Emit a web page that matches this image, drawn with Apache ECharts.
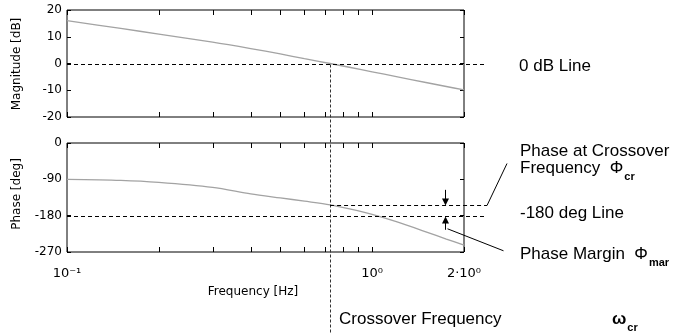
<!DOCTYPE html>
<html>
<head>
<meta charset="utf-8">
<script src="https://cdn.jsdelivr.net/npm/echarts@6/dist/echarts.min.js"></script>
<style>
  html, body { margin: 0; padding: 0; background: #fff; }
  #chart { width: 675px; height: 335px; }
</style>
</head>
<body>
<div id="chart"></div>
<script>
// values
const freq = [0.1, 0.15, 0.2, 0.3, 0.4, 0.5, 0.6, 0.728, 0.85, 1.0, 1.2, 1.5, 1.75, 2.0]
const magnitudeDb = [16.0, 13.1, 11.0, 8.0, 5.6, 3.6, 1.8, 0.0, -1.5, -3.1, -4.9, -7.1, -8.6, -9.9]
const phaseDeg = [-90, -92.5, -97.5, -110, -126, -136, -144, -153, -164, -177, -195, -220, -238, -253]

const crossoverFreq = 0.728
const phaseAtCrossover = -153
const marginArrowFreq = 1.734
const arrowTopDeg = -116
const arrowBottomDeg = -215

const freqTicks = [0.1, 0.2, 0.3, 0.4, 0.5, 0.6, 0.7, 0.8, 0.9, 1, 2]
const freqLabelValues = [0.1, 1, 2]
const freqLabelTexts = ['10⁻¹', '10⁰', '2·10⁰']

const sans = 'Liberation Sans'
const small = 'DejaVu Sans'
const crisp = v => Math.round(v) + 0.5

function renderTicks (yLow, yHigh) {
  return function (params, api) {
    const f = api.value(0)
    const top = api.coord([f, yHigh])
    const bot = api.coord([f, yLow])
    const x = crisp(top[0])
    return {
      type: 'group',
      children: [
        { type: 'line', shape: { x1: x, y1: top[1], x2: x, y2: top[1] + 5 }, style: { stroke: '#000', lineWidth: 1 } },
        { type: 'line', shape: { x1: x, y1: bot[1], x2: x, y2: bot[1] - 5 }, style: { stroke: '#000', lineWidth: 1 } }
      ]
    }
  }
}

function yAxes (grid, min, max, interval) {
  const common = {
    type: 'value',
    gridIndex: grid,
    min: min,
    max: max,
    interval: interval,
    axisLine: { show: false },
    splitLine: { show: false },
    axisTick: { show: true, inside: true, length: 4, lineStyle: { color: '#000' } }
  }
  return [
    Object.assign({}, common, {
      position: 'left',
      axisLabel: { margin: 5, color: '#000', fontSize: 12, fontFamily: small }
    }),
    Object.assign({}, common, { position: 'right', axisLabel: { show: false } })
  ]
}

const xCommon = {
  type: 'log',
  logBase: 10,
  min: 0.1,
  max: 2,
  axisLine: { show: false },
  axisTick: { show: false },
  axisLabel: { show: false },
  splitLine: { show: false }
}

const subStyle = { fontSize: 11, fontWeight: 'bold', fontFamily: sans, fill: '#000', padding: [18, 0, 0, 1] }

const chart = echarts.init(document.getElementById('chart'))

const option = {
  animation: false,
  backgroundColor: '#fff',
  grid: [
    { left: 67, top: 10, width: 397, height: 107, show: true, borderColor: '#000', borderWidth: 1 },
    { left: 67, top: 143, width: 397, height: 109, show: true, borderColor: '#000', borderWidth: 1 }
  ],
  xAxis: [
    Object.assign({ gridIndex: 0 }, xCommon),
    Object.assign({ gridIndex: 1 }, xCommon)
  ],
  yAxis: yAxes(0, -20, 20, 10).concat(yAxes(1, -270, 0, 90)),
  series: [
    {
      name: 'Magnitude',
      type: 'line',
      xAxisIndex: 0,
      yAxisIndex: 0,
      data: freq.map((f, i) => [f, magnitudeDb[i]]),
      showSymbol: false,
      smooth: 0.3,
      lineStyle: { color: '#a3a3a3', width: 1.3 },
      z: 3
    },
    {
      name: 'Phase',
      type: 'line',
      xAxisIndex: 1,
      yAxisIndex: 2,
      data: freq.map((f, i) => [f, phaseDeg[i]]),
      showSymbol: false,
      smooth: 0.3,
      lineStyle: { color: '#a3a3a3', width: 1.3 },
      z: 3
    },
    {
      type: 'custom',
      xAxisIndex: 0,
      yAxisIndex: 0,
      clip: false,
      encode: { x: 0, y: 1 },
      data: freqTicks.map(f => [f, 0]),
      renderItem: renderTicks(-20, 20),
      z: 5
    },
    {
      type: 'custom',
      xAxisIndex: 1,
      yAxisIndex: 2,
      clip: false,
      encode: { x: 0, y: 1 },
      data: freqTicks.map(f => [f, 0]),
      renderItem: renderTicks(-270, 0),
      z: 5
    },
    {
      // x tick labels under the phase plot
      type: 'custom',
      xAxisIndex: 1,
      yAxisIndex: 2,
      clip: false,
      encode: { x: 0, y: 1 },
      data: freqLabelValues.map(f => [f, -270]),
      renderItem: function (params, api) {
        const p = api.coord([api.value(0), api.value(1)])
        return {
          type: 'text',
          x: p[0],
          y: p[1] + 22,
          style: {
            text: freqLabelTexts[params.dataIndex],
            fontSize: 13,
            fontFamily: small,
            fill: '#000',
            align: 'center',
            verticalAlign: 'middle'
          }
        }
      }
    },
    {
      // 0 dB line and crossover frequency line
      type: 'custom',
      xAxisIndex: 0,
      yAxisIndex: 0,
      clip: false,
      encode: { x: 0, y: 1 },
      data: [[crossoverFreq, 0]],
      renderItem: function (params, api) {
        const p = api.coord([api.value(0), api.value(1)])
        const left = api.coord([0.1, 0])
        const right = api.coord([2, 0])
        const x = crisp(p[0])
        const y = crisp(p[1])
        return {
          type: 'group',
          children: [
            { type: 'line', shape: { x1: left[0], y1: y, x2: right[0] + 21, y2: y }, style: { stroke: '#000', lineWidth: 1, lineDash: [4, 3] } },
            { type: 'line', shape: { x1: x, y1: y, x2: x, y2: api.getHeight() - 2 }, style: { stroke: '#333', lineWidth: 1, lineDash: [3, 2] } }
          ]
        }
      },
      z: 4
    },
    {
      // -180 deg line, phase at crossover, leader
      type: 'custom',
      xAxisIndex: 1,
      yAxisIndex: 2,
      clip: false,
      encode: { x: 0, y: 1 },
      data: [[crossoverFreq, phaseAtCrossover]],
      renderItem: function (params, api) {
        const p = api.coord([api.value(0), api.value(1)])
        const l180 = api.coord([0.1, -180])
        const r = api.coord([2, -180])[0] + 23
        const y180 = crisp(l180[1])
        const yCr = crisp(p[1])
        const st = { stroke: '#000', lineWidth: 1, lineDash: [4, 3] }
        return {
          type: 'group',
          children: [
            { type: 'line', shape: { x1: l180[0], y1: y180, x2: r, y2: y180 }, style: st },
            { type: 'line', shape: { x1: p[0], y1: yCr, x2: r, y2: yCr }, style: st },
            { type: 'line', shape: { x1: r, y1: yCr, x2: r + 20, y2: yCr - 42 }, style: { stroke: '#000', lineWidth: 1 } }
          ]
        }
      },
      z: 4
    },
    {
      // phase margin arrows
      type: 'custom',
      xAxisIndex: 1,
      yAxisIndex: 2,
      clip: false,
      encode: { x: 0, y: 1 },
      data: [[marginArrowFreq, phaseAtCrossover]],
      renderItem: function (params, api) {
        const f = api.value(0)
        const xA = crisp(api.coord([f, 0])[0])
        const yCr = crisp(api.coord([f, api.value(1)])[1])
        const y180 = crisp(api.coord([f, -180])[1])
        const yTop = api.coord([f, arrowTopDeg])[1]
        const yBot = api.coord([f, arrowBottomDeg])[1]
        const st = { stroke: '#000', lineWidth: 1 }
        return {
          type: 'group',
          children: [
            { type: 'line', shape: { x1: xA, y1: yTop, x2: xA, y2: yCr - 6 }, style: st },
            { type: 'polygon', shape: { points: [[xA - 3.5, yCr - 7], [xA + 3.5, yCr - 7], [xA, yCr]] }, style: { fill: '#000' } },
            { type: 'line', shape: { x1: xA, y1: yBot, x2: xA, y2: y180 + 6 }, style: st },
            { type: 'polygon', shape: { points: [[xA - 3.5, y180 + 7], [xA + 3.5, y180 + 7], [xA, y180]] }, style: { fill: '#000' } },
            { type: 'line', shape: { x1: xA + 2, y1: yBot - 1, x2: xA + 58, y2: yBot + 21 }, style: st }
          ]
        }
      },
      z: 4
    }
  ],
  graphic: [
    { type: 'text', x: 17, y: 64, rotation: Math.PI / 2, style: { text: 'Magnitude [dB]', fontSize: 12, fontFamily: small, fill: '#000', align: 'center', verticalAlign: 'middle' } },
    { type: 'text', x: 17, y: 194, rotation: Math.PI / 2, style: { text: 'Phase [deg]', fontSize: 12, fontFamily: small, fill: '#000', align: 'center', verticalAlign: 'middle' } },
    { type: 'text', x: 253, y: 292, style: { text: 'Frequency [Hz]', fontSize: 12, fontFamily: small, fill: '#000', align: 'center', verticalAlign: 'middle' } },
    { type: 'text', x: 519, y: 66, style: { text: '0 dB Line', fontSize: 17, fontFamily: sans, fill: '#000', align: 'left', verticalAlign: 'middle' } },
    { type: 'text', x: 520, y: 151, style: { text: 'Phase at Crossover', fontSize: 17, fontFamily: sans, fill: '#000', align: 'left', verticalAlign: 'middle' } },
    {
      type: 'text', x: 520, y: 168,
      style: {
        text: '{t|Frequency  }{p|Φ}{s|cr}',
        align: 'left',
        verticalAlign: 'middle',
        rich: {
          t: { fontSize: 17, fontFamily: sans, fill: '#000' },
          p: { fontSize: 17, fontFamily: sans, fill: '#000' },
          s: subStyle
        }
      }
    },
    { type: 'text', x: 520, y: 213, style: { text: '-180 deg Line', fontSize: 17, fontFamily: sans, fill: '#000', align: 'left', verticalAlign: 'middle' } },
    {
      type: 'text', x: 520, y: 254,
      style: {
        text: '{t|Phase Margin  }{p|Φ}{s|mar}',
        align: 'left',
        verticalAlign: 'middle',
        rich: {
          t: { fontSize: 17, fontFamily: sans, fill: '#000' },
          p: { fontSize: 17, fontFamily: sans, fill: '#000' },
          s: subStyle
        }
      }
    },
    { type: 'text', x: 339, y: 319, style: { text: 'Crossover Frequency', fontSize: 17, fontFamily: sans, fill: '#000', align: 'left', verticalAlign: 'middle' } },
    {
      type: 'text', x: 612, y: 319,
      style: {
        text: '{p|ω}{s|cr}',
        align: 'left',
        verticalAlign: 'middle',
        rich: {
          p: { fontSize: 17, fontWeight: 'bold', fontFamily: sans, fill: '#000' },
          s: subStyle
        }
      }
    }
  ]
}

chart.setOption(option)
</script>
</body>
</html>
